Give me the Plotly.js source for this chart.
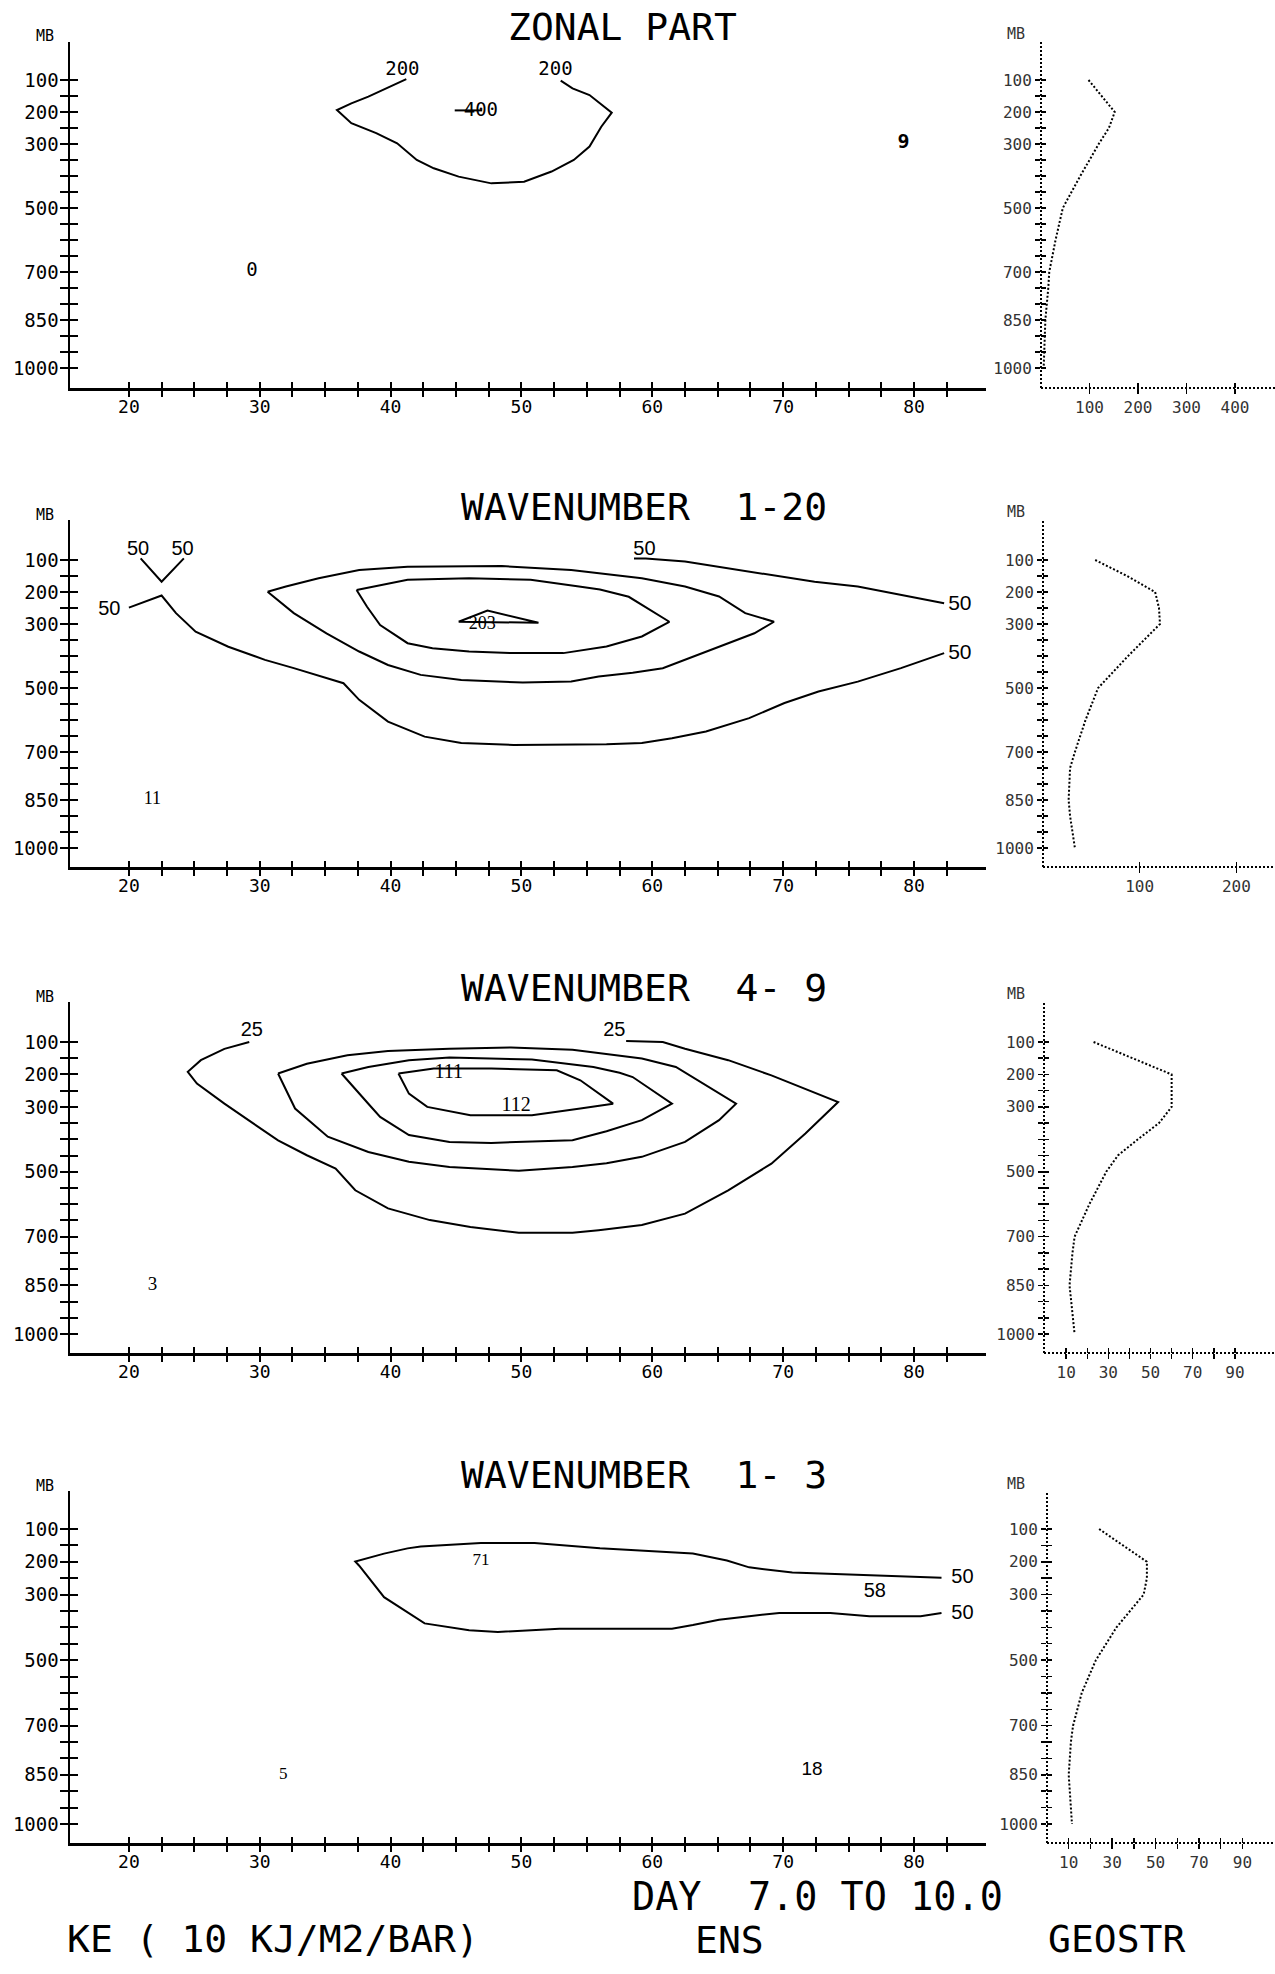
<!DOCTYPE html>
<html><head><meta charset="utf-8">
<script src="https://cdn.plot.ly/plotly-3.0.1.min.js"></script>
<style>html,body{margin:0;padding:0;background:#fff;}#chart{width:1275px;height:1974px;}</style>
</head><body><div id="chart"></div>
<script>
// ---------------- axis ticks ----------------
const pressureTicks = [100,150,200,250,300,350,400,450,500,550,600,650,700,750,800,850,900,950,1000];
const pressureTickText = ['100','','200','','300','','','','500','','','','700','','','850','','','1000'];
const latTicks = [20,22.5,25,27.5,30,32.5,35,37.5,40,42.5,45,47.5,50,52.5,55,57.5,60,62.5,65,67.5,70,72.5,75,77.5,80,82.5];
const latTickText = ['20','','','','30','','','','40','','','','50','','','','60','','','','70','','','','80',''];
const sideTicksZonal = [100,200,300,400];
const sideTickTextZonal = ['100','200','300','400'];
const sideTicksW120 = [100,200];
const sideTickTextW120 = ['100','200'];
const sideTicksSmall = [10,20,30,40,50,60,70,80,90];
const sideTickTextSmall = ['10','','30','','50','','70','','90'];

// ---------------- ZONAL PART ----------------
const zonalC200Lat = [41.2,39.8,38.3,37.0,35.9,37.0,38.9,40.5,42.0,43.3,45.2,47.7,50.2,52.3,54.0,55.2,56.1,56.9,55.2,53.9,53.0];
const zonalC200P   = [97,123,152,173,194,235,266,298,350,376,402,423,418,386,350,308,246,202,147,126,102];
const zonalC400Lat = [44.9,47.0];
const zonalC400P   = [195,195];
const zonalLabelLat  = [40.9,52.6,46.9,29.4,79.2];
const zonalLabelP    = [69,69,199,699,297];
const zonalLabelText = ['200','200','400','0','<b>9</b>'];
const zonalProfileP  = [100,150,200,250,300,400,500,600,700,750,850,1000];
const zonalProfileKE = [98,126,152,140,119,81,45,30,17,15,9,5.5];

// ---------------- WAVENUMBER 1-20 ----------------
const w120C50aLat = [20.0,22.5,23.6,25.1,27.6,30.4,32.6,35.1,36.4,37.6,39.8,42.6,45.4,49.4,53.8,56.5,59.2,61.5,64.1,67.4,70.1,72.7,75.7,79.0,82.3];
const w120C50aP   = [249,211,266,324,371,412,438,469,485,537,605,652,672,678,678,676,672,657,636,594,547,511,480,438,391];
const w120C50bLat = [58.6,59.5,62.5,65.8,69.1,72.4,75.7,79.0,82.3];
const w120C50bP   = [95,95,105,126,147,168,183,209,235];
const w120C50vLat = [20.9,22.5,24.2];
const w120C50vP   = [95,168,95];
const w120C100Lat = [30.6,32.0,34.5,37.6,41.3,44.9,48.5,53.8,55.9,59.2,62.5,65.1,67.1,69.3,67.8,65.1,62.5,60.8,58.5,55.9,53.8,50.1,45.4,42.3,39.8,37.6,35.1,32.6,30.6];
const w120C100P   = [199,183,157,131,121,119,119,131,142,157,183,214,266,293,329,371,412,438,452,464,480,483,475,459,428,386,329,266,199];
const w120C150Lat = [37.4,41.3,46.0,50.7,54.4,56.0,58.2,61.3,59.2,56.5,53.2,49.1,46.0,43.2,41.3,39.2,38.2,37.4];
const w120C150P   = [194,162,157,162,183,192,215,293,339,370,391,391,386,376,360,303,246,194];
const w120C200Lat = [45.2,47.4,51.3,45.2];
const w120C200P   = [293,258,296,293];
const w120LabelLat  = [18.5,20.7,24.1,59.4,83.5,83.5,47.0,21.8];
const w120LabelP    = [256,69,69,69,241,394,303,850];
const w120LabelText = ['50','50','50','50','50','50','203','11'];
const w120ProfileP  = [100,150,200,250,300,400,500,600,700,750,850,900,1000];
const w120ProfileKE = [54,87,116,120,121,88,57,44,33,28,26.5,28,33];

// ---------------- WAVENUMBER 4-9 ----------------
const w49C25Lat = [29.2,27.3,25.5,24.5,25.2,27.3,29.5,31.4,33.6,35.8,37.3,39.8,43.0,46.1,49.8,53.9,55.9,59.2,62.5,65.8,69.1,71.7,74.2,71.7,69.1,65.8,62.5,60.8,58.0];
const w49C25P   = [100,121,156,192,228,290,351,403,449,490,557,613,649,670,688,688,680,664,629,557,475,382,285,244,203,156,121,100,97];
const w49C50Lat = [31.4,33.6,36.7,39.8,44.5,49.2,53.9,56.5,59.2,61.8,64.5,66.4,65.1,62.5,59.2,56.5,53.9,49.8,44.5,41.4,38.3,35.2,32.7,31.4];
const w49C50P   = [197,167,141,128,121,117,124,138,151,177,244,290,341,408,454,474,485,497,485,469,439,392,305,197];
const w49C75Lat = [36.25,38.3,41.4,44.5,50.8,55.5,57.5,58.5,61.5,59.2,56.5,53.9,47.7,44.5,41.4,39.2,38.4,37.3,36.25];
const w49C75P   = [197,177,156,148,154,177,195,208,290,341,375,403,411,408,387,331,295,244,197];
const w49C100Lat = [40.6,43.3,47.7,52.7,54.5,57.0,54.5,50.8,46.1,42.8,41.4,40.6];
const w49C100P   = [197,182,182,187,218,290,305,326,326,300,259,197];
const w49LabelLat  = [29.4,57.1,44.45,49.6,21.8];
const w49LabelP    = [66,66,197,297,849];
const w49LabelText = ['25','25','111','112','3'];
const w49ProfileP  = [100,200,300,350,400,450,500,550,600,700,750,850,950,1000];
const w49ProfileKE = [23,60,60,54,44,34.5,29,25,21,14,13,11.6,13,14];

// ---------------- WAVENUMBER 1-3 ----------------
const w13C50Lat = [82.1,78.9,73.9,70.7,67.4,65.7,63.1,59.8,56.0,51.0,46.9,42.3,41.3,39.5,37.3,37.6,39.5,42.6,46.0,48.2,52.9,55.9,59.2,61.5,63.1,65.1,67.4,69.7,73.6,76.6,80.5,82.1];
const w13C50P   = [249,244,238,233,217,196,175,167,159,143,143,153,159,175,199,212,308,388,409,414,404,404,404,404,393,377,366,356,356,366,366,356];
const w13LabelLat  = [46.9,77.0,83.7,83.7,72.2,31.8];
const w13LabelP    = [198,292,249,359,835,850];
const w13LabelText = ['71','58','50','50','18','5'];
const w13ProfileP  = [100,200,250,300,400,500,600,700,750,850,1000];
const w13ProfileKE = [24,46,46,44.5,32,22.5,16,12,11,10,11.5];

// ---------------- figure assembly ----------------
const W = 1275, H = 1974;
const MONO = 'DejaVu Sans Mono, Liberation Mono, monospace';
const SANS = 'Liberation Sans, Arial, sans-serif';
const SERIF = 'Liberation Serif, serif';

const panels = [
  {top:42, bottom:388, pRange:[1062.5,-18.75], sideLeft:1041, sideRange:[0,482.5],
   sideTicks:sideTicksZonal, sideText:sideTickTextZonal, title:'ZONAL PART', titleX:506, titleY:27, mbY:36, sideMbY:34,
   contours:[[zonalC200Lat,zonalC200P],[zonalC400Lat,zonalC400P]],
   labels:[zonalLabelLat,zonalLabelP,zonalLabelText,[MONO,MONO,MONO,MONO,MONO],[19,19,19,19,20]],
   profile:[zonalProfileKE,zonalProfileP]},
  {top:520, bottom:867, pRange:[1059.4,-25], sideLeft:1043, sideRange:[0,240],
   sideTicks:sideTicksW120, sideText:sideTickTextW120, title:'WAVENUMBER\u00a0\u00a01-20', titleX:459, titleY:507, mbY:515, sideMbY:512,
   contours:[[w120C50aLat,w120C50aP],[w120C50bLat,w120C50bP],[w120C50vLat,w120C50vP],[w120C100Lat,w120C100P],[w120C150Lat,w120C150P],[w120C200Lat,w120C200P]],
   labels:[w120LabelLat,w120LabelP,w120LabelText,[SANS,SANS,SANS,SANS,SANS,SANS,SERIF,SERIF],[20,20,20,20,21,21,18,18]],
   profile:[w120ProfileKE,w120ProfileP]},
  {top:1002, bottom:1353, pRange:[1058.6,-23.3], sideLeft:1044, sideRange:[-0.5,109],
   sideTicks:sideTicksSmall, sideText:sideTickTextSmall, title:'WAVENUMBER\u00a0\u00a04-\u00a09', titleX:459, titleY:988, mbY:997, sideMbY:994,
   contours:[[w49C25Lat,w49C25P],[w49C50Lat,w49C50P],[w49C75Lat,w49C75P],[w49C100Lat,w49C100P]],
   labels:[w49LabelLat,w49LabelP,w49LabelText,[SANS,SANS,SERIF,SERIF,SERIF],[20,20,20,20,19]],
   profile:[w49ProfileKE,w49ProfileP]},
  {top:1491, bottom:1843, pRange:[1058,-16], sideLeft:1047, sideRange:[0,105],
   sideTicks:sideTicksSmall, sideText:sideTickTextSmall, title:'WAVENUMBER\u00a0\u00a01-\u00a03', titleX:459, titleY:1475, mbY:1486, sideMbY:1484,
   contours:[[w13C50Lat,w13C50P]],
   labels:[w13LabelLat,w13LabelP,w13LabelText,[SERIF,SANS,SANS,SANS,SANS,SERIF],[17,20,20,20,19,17]],
   profile:[w13ProfileKE,w13ProfileP]}
];

function axKey(letter, n){ return letter + 'axis' + (n === 1 ? '' : n); }
function axRef(letter, n){ return letter + (n === 1 ? '' : n); }
function paperAnn(text, px, py, size, family, xanchor, color){
  return {text:text, xref:'paper', yref:'paper', x:px/W, y:1-py/H, xanchor:xanchor, yanchor:'middle',
          showarrow:false, font:{family:family, size:size, color:color||'#000'}};
}

const layout = {width:W, height:H, margin:{l:0,r:0,t:0,b:0,pad:0}, paper_bgcolor:'#fff', plot_bgcolor:'rgba(0,0,0,0)',
  showlegend:false, annotations:[], shapes:[], hovermode:false};
const traces = [];

const baseAxis = {showgrid:false, zeroline:false, fixedrange:true, tickcolor:'#000', tickwidth:2};

panels.forEach(function(pn, r){
  const mainId = 2*r+1, sideId = 2*r+2, ovMain = 9+2*r, ovSide = 10+2*r;
  const yDom = [1 - pn.bottom/H, 1 - pn.top/H];
  const mainXDom = [70/W, 986/W];
  const sideXDom = [pn.sideLeft/W, 1];

  // main axes
  layout[axKey('x',mainId)] = Object.assign({}, baseAxis, {domain:mainXDom, range:[15.5,85.5], anchor:axRef('y',mainId),
    tickmode:'array', tickvals:latTicks, ticktext:latTickText, ticks:'outside', ticklen:6,
    showline:true, linewidth:2.5, linecolor:'#000', ticklabelstandoff:-5,
    tickfont:{family:MONO, size:18, color:'#000'}});
  layout[axKey('y',mainId)] = Object.assign({}, baseAxis, {domain:yDom, range:pn.pRange, anchor:axRef('x',mainId),
    tickmode:'array', tickvals:pressureTicks, ticktext:pressureTickText, ticks:'outside', ticklen:8,
    showline:true, linewidth:2.5, linecolor:'#000', ticklabelstandoff:-3,
    tickfont:{family:MONO, size:19, color:'#000'}});
  // overlay axes to make the ticks cross the axis lines
  layout[axKey('x',ovMain)] = Object.assign({}, baseAxis, {overlaying:axRef('x',mainId), anchor:axRef('y',ovMain), range:[15.5,85.5],
    tickmode:'array', tickvals:latTicks, ticks:'inside', ticklen:6, showticklabels:false, showline:false});
  layout[axKey('y',ovMain)] = Object.assign({}, baseAxis, {overlaying:axRef('y',mainId), anchor:axRef('x',ovMain), range:pn.pRange,
    tickmode:'array', tickvals:pressureTicks, ticks:'inside', ticklen:8, showticklabels:false, showline:false});
  traces.push({type:'scatter', x:[], y:[], xaxis:axRef('x',ovMain), yaxis:axRef('y',ovMain), hoverinfo:'skip'});

  // side axes
  layout[axKey('x',sideId)] = Object.assign({}, baseAxis, {domain:sideXDom, range:pn.sideRange, anchor:axRef('y',sideId),
    tickmode:'array', tickvals:pn.sideTicks, ticktext:pn.sideText, ticks:'outside', ticklen:5, tickwidth:1.5,
    showline:false, ticklabelstandoff:0, tickfont:{family:MONO, size:16, color:'#333'}});
  layout[axKey('y',sideId)] = Object.assign({}, baseAxis, {domain:yDom, range:pn.pRange, anchor:axRef('x',sideId),
    tickmode:'array', tickvals:pressureTicks, ticktext:pressureTickText, ticks:'outside', ticklen:5, tickwidth:1.5,
    showline:false, ticklabelstandoff:0, tickfont:{family:MONO, size:16, color:'#333'}});
  layout[axKey('x',ovSide)] = Object.assign({}, baseAxis, {overlaying:axRef('x',sideId), anchor:axRef('y',ovSide), range:pn.sideRange,
    tickmode:'array', tickvals:pn.sideTicks, ticks:'inside', ticklen:5, tickwidth:1.5, showticklabels:false, showline:false});
  layout[axKey('y',ovSide)] = Object.assign({}, baseAxis, {overlaying:axRef('y',sideId), anchor:axRef('x',ovSide), range:pn.pRange,
    tickmode:'array', tickvals:pressureTicks, ticks:'inside', ticklen:5, tickwidth:1.5, showticklabels:false, showline:false});
  traces.push({type:'scatter', x:[], y:[], xaxis:axRef('x',ovSide), yaxis:axRef('y',ovSide), hoverinfo:'skip'});

  // dotted side axis lines
  const sx = axRef('x',sideId) + ' domain', sy = axRef('y',sideId) + ' domain';
  layout.shapes.push({type:'line', xref:sx, yref:sy, x0:0, x1:1, y0:0, y1:0, line:{color:'#000', width:2, dash:'2px,2px'}});
  layout.shapes.push({type:'line', xref:sx, yref:sy, x0:0, x1:0, y0:0, y1:1, line:{color:'#000', width:2, dash:'2px,2px'}});

  // contour lines
  pn.contours.forEach(function(c){
    traces.push({type:'scatter', mode:'lines', x:c[0], y:c[1], xaxis:axRef('x',mainId), yaxis:axRef('y',mainId),
      line:{color:'#000', width:2}, hoverinfo:'skip', cliponaxis:false});
  });
  // contour labels
  traces.push({type:'scatter', mode:'text', x:pn.labels[0], y:pn.labels[1], text:pn.labels[2],
    textposition:'middle center', textfont:{family:pn.labels[3], size:pn.labels[4], color:'#000'},
    xaxis:axRef('x',mainId), yaxis:axRef('y',mainId), hoverinfo:'skip', cliponaxis:false});
  // vertical profile
  traces.push({type:'scatter', mode:'lines', x:pn.profile[0], y:pn.profile[1], xaxis:axRef('x',sideId), yaxis:axRef('y',sideId),
    line:{color:'#000', width:2, dash:'2px,2px'}, hoverinfo:'skip', cliponaxis:false});

  // titles and MB labels
  layout.annotations.push(paperAnn(pn.title, pn.titleX, pn.titleY, 38, MONO, 'left'));
  layout.annotations.push(paperAnn('MB', 45, pn.mbY, 15, MONO, 'center'));
  layout.annotations.push(paperAnn('MB', 1016, pn.sideMbY, 15, MONO, 'center', '#333'));
});

// bottom texts
layout.annotations.push(paperAnn('DAY\u00a0\u00a07.0 TO 10.0', 630, 1896, 38.5, MONO, 'left'));
layout.annotations.push(paperAnn('KE ( 10 KJ/M2/BAR)', 65, 1939, 38, MONO, 'left'));
layout.annotations.push(paperAnn('ENS', 693, 1940, 38, MONO, 'left'));
layout.annotations.push(paperAnn('GEOSTR', 1046, 1939, 38, MONO, 'left'));

Plotly.newPlot('chart', traces, layout, {staticPlot:true, displayModeBar:false});
</script>
</body></html>
